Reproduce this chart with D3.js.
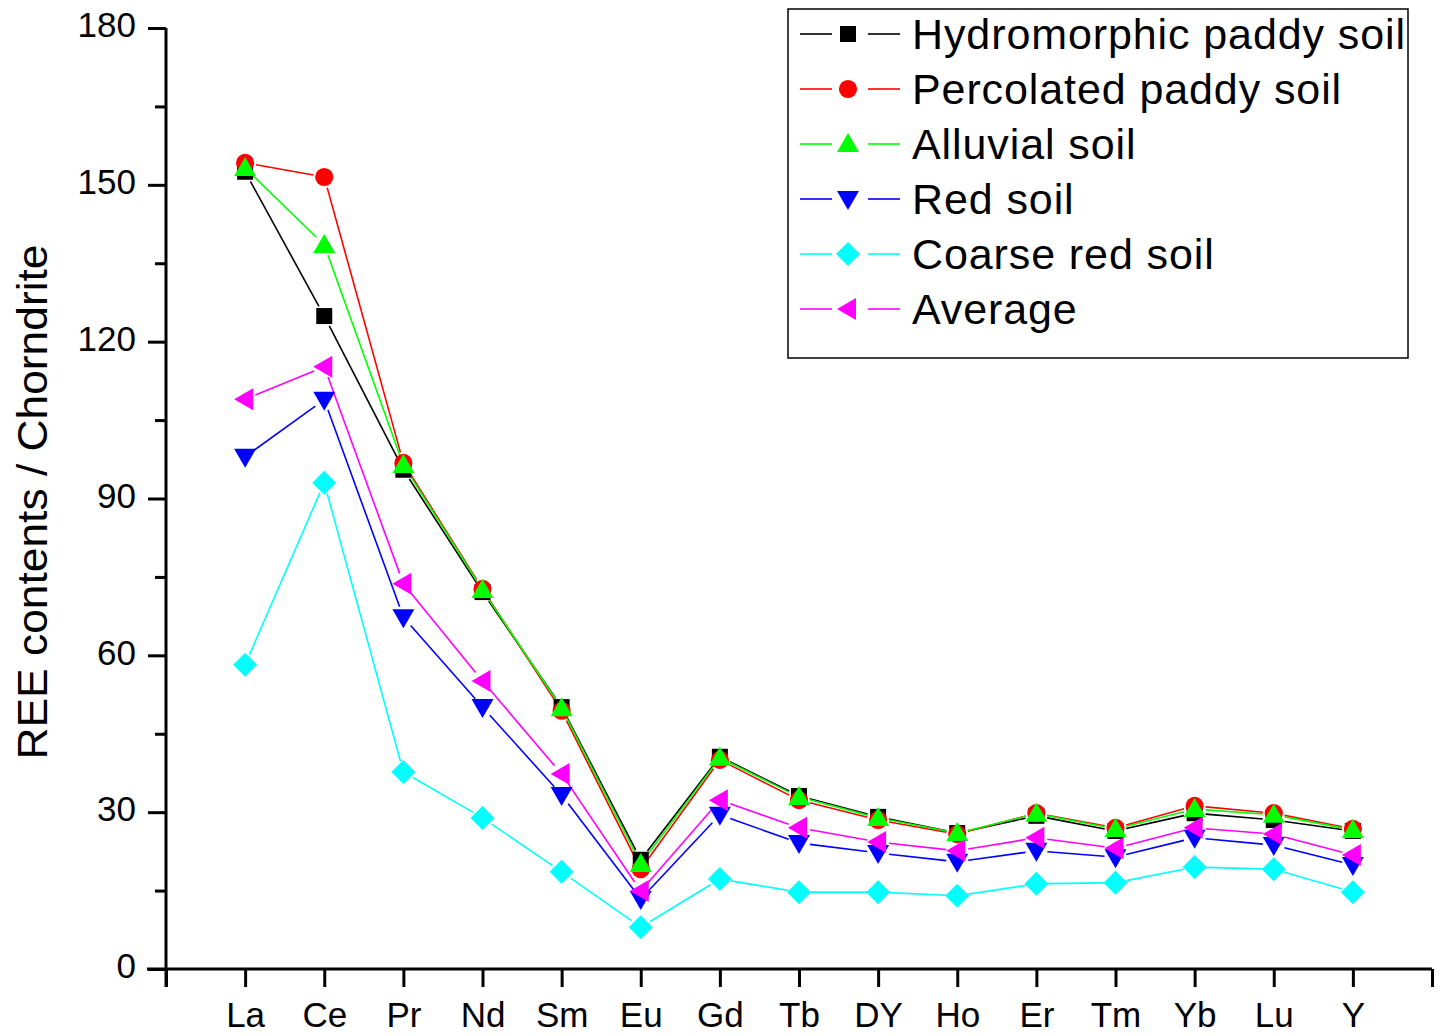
<!DOCTYPE html>
<html>
<head>
<meta charset="utf-8">
<script src="https://cdn.jsdelivr.net/npm/d3@7"></script>
<style>
  body { margin: 0; background: #fff; }
  text { font-family: "Liberation Sans", Arial, sans-serif; fill: #000; }
</style>
</head>
<body>
<svg id="chart"></svg>
<script>
// REE categories (x axis)
const elements = ['La', 'Ce', 'Pr', 'Nd', 'Sm', 'Eu', 'Gd', 'Tb', 'DY', 'Ho', 'Er', 'Tm', 'Yb', 'Lu', 'Y'];

// chondrite-normalised values
const hydromorphic = [152.5, 124.9, 95.5, 72.1, 50.1, 20.9, 40.6, 33.1, 29.1, 26.0, 29.3, 26.4, 29.8, 28.5, 26.4];
const percolated   = [154.2, 151.5, 96.8, 72.7, 49.4, 19.1, 40.0, 32.3, 28.5, 25.8, 29.8, 27.0, 31.2, 29.8, 26.8];
const alluvial     = [153.2, 138.5, 96.4, 72.5, 49.9, 20.1, 40.4, 32.9, 28.9, 26.0, 29.7, 26.8, 30.6, 29.5, 26.6];
const redSoil      = [98.0, 108.9, 67.3, 50.1, 33.3, 13.4, 29.5, 24.1, 22.2, 20.5, 22.6, 21.4, 25.1, 23.7, 19.9];
const coarseRed    = [58.2, 93.0, 37.7, 28.9, 18.6, 8.0, 17.2, 14.7, 14.7, 14.0, 16.3, 16.5, 19.5, 19.1, 14.7];
const average      = [109.0, 115.2, 73.7, 55.1, 37.3, 14.9, 32.3, 27.0, 24.3, 22.6, 25.1, 23.1, 27.0, 25.8, 21.8];

const yTicks = [0, 30, 60, 90, 120, 150, 180];

const series = [
  { name: 'Hydromorphic paddy soil', values: hydromorphic, color: '#000000', shape: 'square' },
  { name: 'Percolated paddy soil',   values: percolated,   color: '#ff0000', shape: 'circle' },
  { name: 'Alluvial soil',           values: alluvial,     color: '#00ff00', shape: 'up' },
  { name: 'Red soil',                values: redSoil,      color: '#0000ff', shape: 'down' },
  { name: 'Coarse red soil',         values: coarseRed,    color: '#00ffff', shape: 'diamond' },
  { name: 'Average',                 values: average,      color: '#ff00ff', shape: 'left' }
];

const W = 1443, H = 1036;
const margin = { top: 28, right: 11, bottom: 67, left: 166 };
const width = W - margin.left - margin.right;
const height = H - margin.top - margin.bottom;

const svg = d3.select('#chart').attr('width', W).attr('height', H);
const g = svg.append('g').attr('transform', `translate(${margin.left},${margin.top})`);

// categories sit at 1..15 on a 0..16 axis
const x = d3.scaleLinear().domain([0, elements.length + 1]).range([0, width]);
const y = d3.scaleLinear().domain([0, 180]).range([height, 0]);

// marker path generators, centred at 0,0
function markerPath(shape) {
  switch (shape) {
    case 'square': return 'M-8,-8H8V8H-8Z';
    case 'circle': return d3.symbol(d3.symbolCircle, 260)();
    case 'up': return 'M0,-11L11,8H-11Z';
    case 'down': return 'M0,11L11,-8H-11Z';
    case 'diamond': return 'M0,-12L12,0L0,12L-12,0Z';
    case 'left': return 'M-11,0L8,-11V11Z';
  }
}

// lines with small gaps near each marker, drawn first
const gap = 11;
series.forEach(s => {
  const pts = s.values.map((v, i) => [x(i + 1), y(v)]);
  const segs = d3.pairs(pts).map(([a, b]) => {
    const dx = b[0] - a[0], dy = b[1] - a[1];
    const len = Math.hypot(dx, dy);
    const ux = dx / len, uy = dy / len;
    return [[a[0] + ux * gap, a[1] + uy * gap], [b[0] - ux * gap, b[1] - uy * gap]];
  });
  g.append('g').selectAll('line').data(segs).join('line')
    .attr('x1', d => d[0][0]).attr('y1', d => d[0][1])
    .attr('x2', d => d[1][0]).attr('y2', d => d[1][1])
    .attr('stroke', s.color).attr('stroke-width', 1.6);
});

series.forEach(s => {
  g.append('g').selectAll('path').data(s.values).join('path')
    .attr('transform', (d, i) => `translate(${x(i + 1)},${y(d)})`)
    .attr('d', markerPath(s.shape))
    .attr('fill', s.color);
});

// x axis
const xAxis = d3.axisBottom(x)
  .tickValues(d3.range(0, elements.length + 2))
  .tickSize(18)
  .tickPadding(15)
  .tickFormat(i => elements[i - 1] || '');
const xAxisG = g.append('g').attr('transform', `translate(0,${height})`).call(xAxis);
xAxisG.select('.domain').attr('d', `M-19,0H${width}`);
xAxisG.selectAll('line').attr('stroke-width', 3);
xAxisG.selectAll('text').attr('font-size', 35).attr('dy', '0.71em');

// y axis (minor ticks first)
g.append('g').call(d3.axisLeft(y).tickValues(d3.range(15, 180, 30)).tickSize(11).tickFormat(''))
  .call(a => a.select('.domain').remove())
  .selectAll('line').attr('stroke-width', 3);
const yAxisG = g.append('g').call(d3.axisLeft(y).tickValues(yTicks).tickSize(18).tickPadding(12));
yAxisG.select('.domain').attr('d', `M0,0V${height + 18}`);
yAxisG.selectAll('line').attr('stroke-width', 3);
yAxisG.selectAll('text').attr('font-size', 35).attr('dy', '0.25em');
svg.selectAll('.domain').attr('stroke-width', 3);

// y axis title
svg.append('text')
  .attr('transform', `translate(47,502) rotate(-90)`)
  .attr('text-anchor', 'middle')
  .attr('font-size', 42)
  .attr('textLength', 515)
  .attr('lengthAdjust', 'spacingAndGlyphs')
  .text('REE contents / Chorndrite');

// legend
const legend = svg.append('g').attr('transform', 'translate(788,9)');
legend.append('rect').attr('width', 620).attr('height', 349)
  .attr('fill', '#fff').attr('stroke', '#000').attr('stroke-width', 1.5);
const rows = legend.selectAll('g.row').data(series).join('g')
  .attr('class', 'row')
  .attr('transform', (d, i) => `translate(0,${25 + i * 55})`);
rows.append('line').attr('x1', 12).attr('x2', 44).attr('stroke', d => d.color).attr('stroke-width', 1.6);
rows.append('line').attr('x1', 80).attr('x2', 112).attr('stroke', d => d.color).attr('stroke-width', 1.6);
rows.append('path').attr('transform', 'translate(60,0)').attr('d', d => markerPath(d.shape)).attr('fill', d => d.color);
rows.append('text').attr('x', 124).attr('dy', '0.36em')
  .attr('font-size', 43).attr('letter-spacing', 0.9)
  .text(d => d.name);
</script>
</body>
</html>
